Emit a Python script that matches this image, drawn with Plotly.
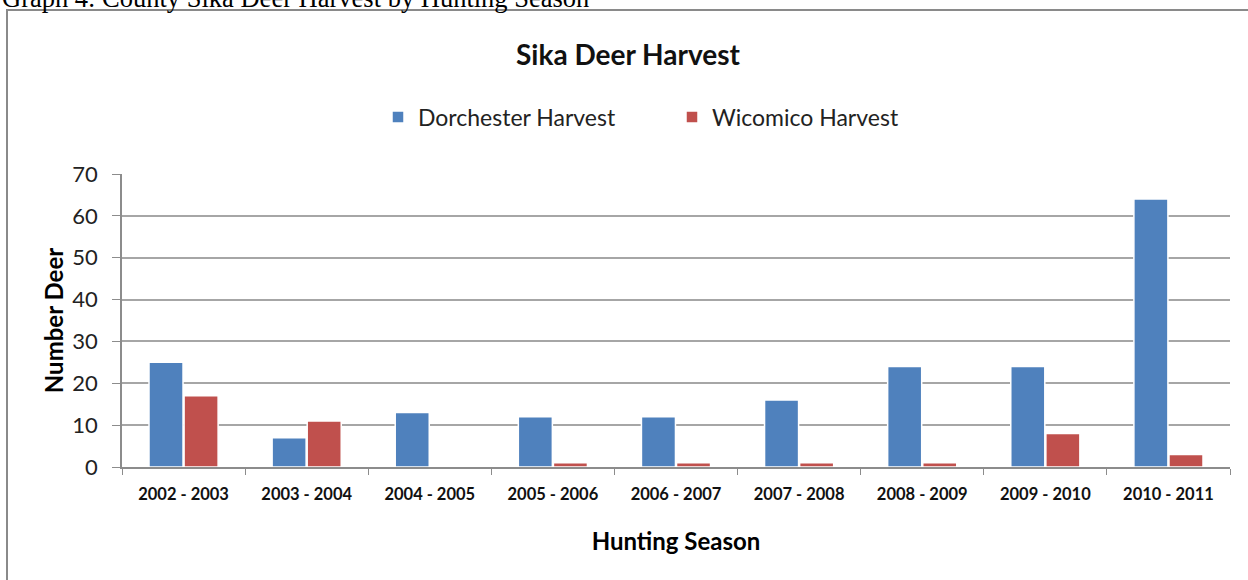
import plotly.graph_objects as go

seasons = ["2002 - 2003", "2003 - 2004", "2004 - 2005", "2005 - 2006", "2006 - 2007",
           "2007 - 2008", "2008 - 2009", "2009 - 2010", "2010 - 2011"]
dorchester = [25, 7, 13, 12, 12, 16, 24, 24, 64]
wicomico = [17, 11, 0, 1, 1, 1, 1, 8, 3]

W, H = 1248, 580
L, R, T, B = 122, 18, 174, 113
PW, PH = W - L - R, H - T - B

def px(x):
    return (x - L) / PW

def py(y):
    return (H - B - y) / PH

FONT = "Lato, Open Sans, sans-serif"

fig = go.Figure()
fig.add_trace(go.Bar(x=seasons, y=dorchester, name="Dorchester Harvest",
                     marker=dict(color="#4F81BD", line=dict(color="white", width=1.5))))
fig.add_trace(go.Bar(x=seasons, y=wicomico, name="Wicomico Harvest",
                     marker=dict(color="#C0504D", line=dict(color="white", width=1.5))))

fig.update_layout(
    width=W, height=H,
    margin=dict(l=L, r=R, t=T, b=B, autoexpand=False),
    paper_bgcolor="white", plot_bgcolor="white",
    barmode="group", bargap=0.43, bargroupgap=0.03,
    font=dict(family=FONT, color="#000000"),
    showlegend=True,
    legend=dict(orientation="h", x=px(378), xanchor="left", y=py(117), yanchor="middle",
                font=dict(size=23, family=FONT, color="#222222"),
                entrywidth=249, itemwidth=30, bgcolor="rgba(0,0,0,0)"),
    xaxis=dict(type="category", tickson="boundaries", ticks="outside", ticklen=6,
               tickcolor="#8c8c8c", showline=True, linecolor="#8c8c8c", linewidth=1.5,
               ticklabelstandoff=11,
               tickfont=dict(size=16.5, family=FONT, color="#111111", weight="bold"),
               title=dict(text="<b>Hunting Season</b>", font=dict(size=24, family=FONT), standoff=31),
               showgrid=False),
    yaxis=dict(range=[0, 70], dtick=10, ticks="outside", ticklen=8, tickcolor="#8c8c8c",
               showline=True, linecolor="#8c8c8c", linewidth=1.5,
               gridcolor="#a6a6a6", gridwidth=1.5, ticklabelstandoff=10,
               tickfont=dict(size=22, family=FONT, color="#222222"),
               title=dict(text="<b>Number Deer</b>", font=dict(size=24, family=FONT), standoff=2),
               zeroline=False),
)

fig.add_annotation(text="<b>Sika Deer Harvest</b>", xref="paper", yref="paper",
                   x=px(628), y=py(54), xanchor="center", yanchor="middle",
                   showarrow=False, font=dict(size=28, family=FONT, color="#111111"))

fig.add_annotation(text="Graph 4: County Sika Deer Harvest by Hunting Season", xref="paper", yref="paper",
                   x=px(0), y=py(-2.5), xanchor="left", yanchor="middle",
                   showarrow=False, font=dict(size=26.5, family="Liberation Serif, serif", color="#000000"))

fig.add_shape(type="rect", xref="paper", yref="paper",
              x0=px(7), x1=px(1260), y0=py(10), y1=py(600),
              line=dict(color="#8a8a8a", width=2), fillcolor="rgba(0,0,0,0)", layer="below")

fig.write_html("out.html", config={"displayModeBar": False},
               post_script="document.body.style.margin='0';document.body.style.overflow='hidden';")
